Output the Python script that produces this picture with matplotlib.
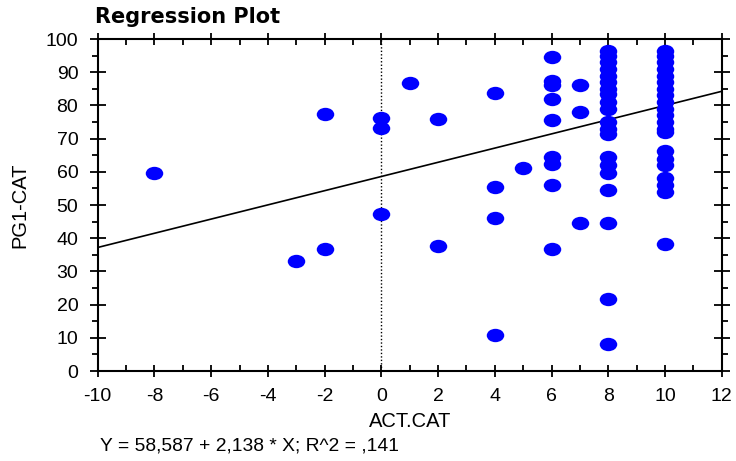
import numpy as np
import matplotlib
matplotlib.use("Agg")
import matplotlib.pyplot as plt
from matplotlib.path import Path
from matplotlib.ticker import MultipleLocator

plt.rcParams['font.family'] = ['Liberation Sans', 'DejaVu Sans']

# ---- data ----
act_cat = ([-8] + [-3] + [-2] * 2 + [0] * 3 + [1] + [2] * 2 + [4] * 4 + [5]
           + [6] * 9 + [7] * 3 + [8] * 20 + [10] * 21)
pg1_cat = ([59.6]
           + [33.2]
           + [77.3, 36.8]
           + [76.3, 73.1, 47.2]
           + [86.7]
           + [75.8, 37.7]
           + [83.6, 55.5, 46.0, 10.8]
           + [61.2]
           + [94.5, 87.4, 86.1, 81.9, 75.7, 64.4, 62.3, 56.0, 36.7]
           + [86.2, 77.9, 44.6]
           + [96.5, 95, 93, 91, 89, 87, 85, 83.5, 81, 79, 75, 73, 71.4,
              64.5, 62, 59.6, 54.6, 44.6, 21.7, 8.2]
           + [96.5, 95, 93, 91, 89, 87, 85, 83, 81, 79, 77, 75, 73, 72,
              66.3, 64, 62, 58, 56, 54, 38.3])
intercept = 58.587
slope = 2.138
x_ticks = list(range(-10, 13, 2))
y_ticks = list(range(0, 101, 10))
title = "Regression Plot"
x_label = "ACT.CAT"
y_label = "PG1-CAT"
equation = "Y = 58,587 + 2,138 * X; R^2 = ,141"

# ---- figure ----
fig = plt.figure(figsize=(7.36, 4.61), dpi=100)
ax = fig.add_axes([97.7 / 736, 1 - 371 / 461, (721.7 - 97.7) / 736, (371 - 39) / 461])

# ellipse marker
circ = Path.unit_circle()
ell = Path(circ.vertices * np.array([1.0, 13.0 / 17.0]), circ.codes)

ax.axvline(0, color='black', lw=1.0, ls=(0, (1, 1.5)), zorder=1)
xl = np.array([-10, 12])
ax.plot(xl, intercept + slope * xl, color='black', lw=1.2, zorder=2)
ax.plot(act_cat, pg1_cat, ls='none', marker=ell, ms=12.6, mfc='#0000ff',
        mec='#0000ff', mew=0, zorder=3)

ax.set_xlim(-10, 12)
ax.set_ylim(0, 100)
ax.set_xticks(x_ticks)
ax.set_yticks(y_ticks)
ax.xaxis.set_minor_locator(MultipleLocator(1))
ax.yaxis.set_minor_locator(MultipleLocator(5))

for s in ax.spines.values():
    s.set_linewidth(1.5)

ax.tick_params(axis='x', which='major', direction='inout', length=9, width=1.3,
               top=True, labelsize=14, pad=8)
ax.tick_params(axis='x', which='minor', direction='in', length=4, width=1.3, top=True)
ax.tick_params(axis='y', which='major', direction='inout', length=11, width=1.3,
               right=True, labelsize=14, pad=8.5)
ax.tick_params(axis='y', which='minor', direction='out', length=4, width=1.3, right=True)
ax.set_xticklabels([str(v) for v in x_ticks])

ax.set_xlabel(x_label, fontsize=14.5, labelpad=5)
ax.set_ylabel(y_label, fontsize=14.5, labelpad=12)

fig.text(95 / 736, 1 - 17 / 461, title, fontsize=15, fontweight='bold',
         family=['DejaVu Sans'], ha='left', va='center')
fig.text(100 / 736, 1 - 446 / 461, equation, fontsize=13.9, ha='left', va='center')

fig.savefig("out.png", dpi=100)
